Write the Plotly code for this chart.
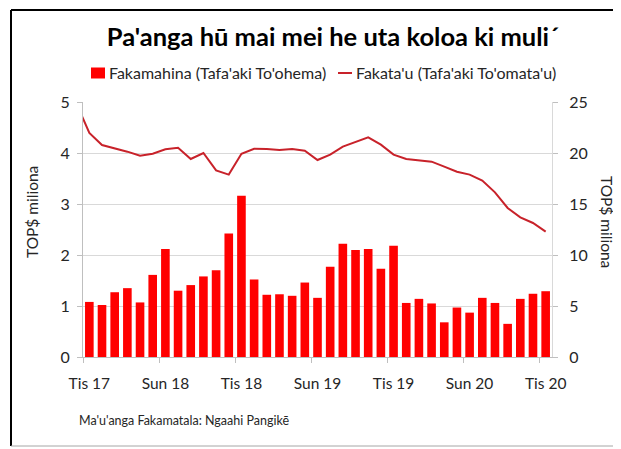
import plotly.graph_objects as go

# ---- data ----
imports_monthly = [1.08, 1.02, 1.27, 1.35, 1.07, 1.61, 2.12, 1.30, 1.41, 1.58, 1.70, 2.42, 3.16,
                   1.52, 1.22, 1.23, 1.20, 1.46, 1.16, 1.77, 2.22, 2.10, 2.12, 1.73, 2.18,
                   1.06, 1.14, 1.05, 0.68, 0.97, 0.87, 1.16, 1.06, 0.65, 1.14, 1.24, 1.29]
# annual (right axis); first value is the month before the first bar
imports_annual = [24.8, 21.96, 20.78, 20.46, 20.13, 19.74, 19.93, 20.36, 20.52, 19.41, 20.0, 18.30,
                  17.88, 19.93, 20.42, 20.39, 20.29, 20.39, 20.23, 19.31, 19.84, 20.62, 21.08,
                  21.54, 20.82, 19.84, 19.41, 19.31, 19.15, 18.66, 18.17, 17.88, 17.29, 16.14,
                  14.61, 13.69, 13.14, 12.29]
tick_labels = ["Tis 17", "Sun 18", "Tis 18", "Sun 19", "Tis 19", "Sun 20", "Tis 20"]
series_names = ["Fakamahina (Tafa'aki To'ohema)", "Fakata'u (Tafa'aki To'omata'u)"]

bar_x = list(range(len(imports_monthly)))
line_x = list(range(-1, len(imports_annual) - 1))
tick_pos = bar_x[::6]
boundary_pos = [p - 0.5 for p in tick_pos]

W, H = 621, 449
OFF = 8  # page body margin
L, R, T, B = 83 - OFF, 552 - OFF, 102 - OFF, 357 - OFF
def px(x):
    return (x - OFF - L) / (R - L)
def py(y):
    return (B - (y - OFF)) / (B - T)

FONT = "Lato"
TXT = "#262626"
BAR_C = "#FF0000"
LINE_C = "#C8222A"

fig = go.Figure()
fig.add_trace(go.Bar(x=bar_x, y=imports_monthly, name=series_names[0],
                     marker=dict(color=BAR_C, line=dict(width=0)), width=0.68))
fig.add_trace(go.Scatter(x=line_x, y=imports_annual, name=series_names[1],
                         mode="lines", line=dict(color=LINE_C, width=2), yaxis="y2"))

fig.update_layout(
    width=W, height=H,
    margin=dict(l=L, r=W - R, t=T, b=H - B, pad=0),
    paper_bgcolor="white", plot_bgcolor="white",
    font=dict(family=FONT, color=TXT, size=15),
    title=dict(text="<b>Pa'anga hū mai mei he uta koloa ki muli´</b>",
               x=(333 - OFF) / W, xanchor="center", y=1 - (37 - OFF) / H, yanchor="middle",
               font=dict(family=FONT, size=25.5, color="black")),
    showlegend=False,
    bargap=0.32,
    xaxis=dict(range=[-0.5, 36.5], tickvals=tick_pos, ticktext=tick_labels, ticks="",
               showgrid=False, zeroline=False, showline=True, linecolor="#BFBFBF", linewidth=1,
               tickfont=dict(size=15.5, color=TXT), ticklabelstandoff=12,
               minor=dict(tickvals=boundary_pos, ticks="outside", ticklen=5, tickcolor="#BFBFBF",
                          showgrid=False)),
    yaxis=dict(range=[0, 5], dtick=1, showgrid=True, gridcolor="#D9D9D9", gridwidth=1,
               zeroline=False, showline=True, linecolor="#BFBFBF", ticks="outside", ticklen=5,
               tickcolor="#BFBFBF", tickfont=dict(size=16, color=TXT), ticklabelstandoff=4),
    yaxis2=dict(range=[0, 25], dtick=5, overlaying="y", side="right", showgrid=False,
                zeroline=False, showline=True, linecolor="#D9D9D9", ticks="outside", ticklen=5,
                tickcolor="#BFBFBF", tickfont=dict(size=16, color=TXT), ticklabelstandoff=8),
    annotations=[
        dict(text=series_names[0], xref="paper", yref="paper", x=px(107), y=py(73),
             xanchor="left", yanchor="middle", showarrow=False, font=dict(size=16, color=TXT)),
        dict(text=series_names[1], xref="paper", yref="paper", x=px(354), y=py(73),
             xanchor="left", yanchor="middle", showarrow=False, font=dict(size=16, color=TXT)),
        dict(text="TOP$ miliona", xref="paper", yref="paper", x=px(32), y=py(212),
             textangle=-90, showarrow=False, font=dict(size=15.5, color=TXT),
             xanchor="center", yanchor="middle"),
        dict(text="TOP$ miliona", xref="paper", yref="paper", x=px(607), y=py(222),
             textangle=90, showarrow=False, font=dict(size=15.5, color=TXT),
             xanchor="center", yanchor="middle"),
        dict(text="Ma'u'anga Fakamatala: Ngaahi Pangikē", xref="paper", yref="paper",
             x=px(77), y=py(420), xanchor="left", yanchor="middle", showarrow=False,
             font=dict(size=12.5, color=TXT)),
    ],
    shapes=[
        # legend keys
        dict(type="rect", xref="paper", yref="paper", x0=px(91), x1=px(105), y0=py(78.5), y1=py(67.5),
             fillcolor=BAR_C, line=dict(width=0)),
        dict(type="line", xref="paper", yref="paper", x0=px(338), x1=px(352), y0=py(73), y1=py(73),
             line=dict(color=LINE_C, width=2)),
        # outer frame
        dict(type="line", xref="paper", yref="paper", x0=px(11), x1=px(11), y0=py(446), y1=py(10),
             line=dict(color="black", width=2)),
        dict(type="line", xref="paper", yref="paper", x0=px(11), x1=px(619), y0=py(10), y1=py(10),
             line=dict(color="black", width=2)),
        dict(type="line", xref="paper", yref="paper", x0=px(619), x1=px(619), y0=py(446), y1=py(10),
             line=dict(color="#595959", width=1)),
        dict(type="line", xref="paper", yref="paper", x0=px(11), x1=px(619), y0=py(446), y1=py(446),
             line=dict(color="#A6A6A6", width=1)),
    ],
)

fig.write_html("out.html")
